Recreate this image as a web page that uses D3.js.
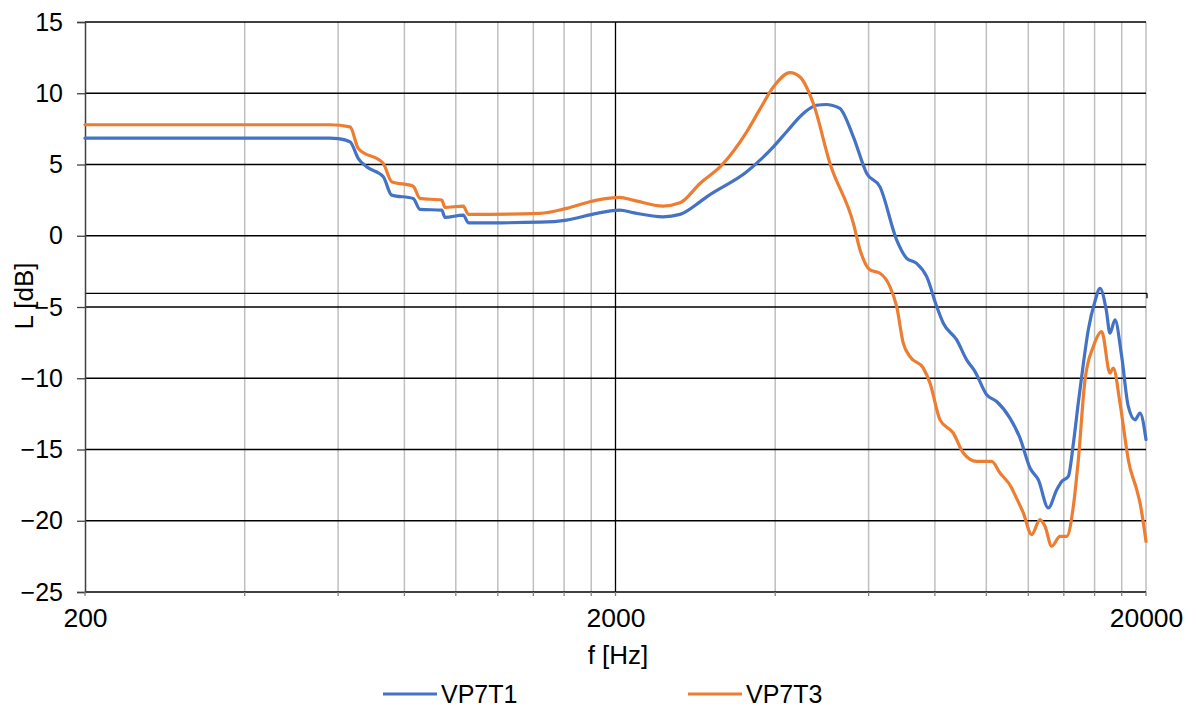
<!DOCTYPE html>
<html>
<head>
<meta charset="utf-8">
<script src="https://cdn.jsdelivr.net/npm/d3@7"></script>
<style>
  html, body { margin: 0; padding: 0; background: #fff; }
  svg { display: block; font-family: "Liberation Sans", Arial, sans-serif; }
</style>
</head>
<body>
<svg id="chart" width="1198" height="708"></svg>
<script>
// ---- data ----
const seriesNames = ["VP7T1", "VP7T3"];
const seriesColors = ["#4472C4", "#ED7D31"];

const freqT1 = [200, 579, 600, 632, 655, 679, 730, 757, 831, 856, 941, 954, 1033, 1056, 1212, 1441, 1618, 1844, 2039, 2158, 2458, 2646, 2886, 2971, 3535, 3968, 4204, 4519, 4781, 5002, 5111, 5300, 5616, 5951, 6303, 6778, 7078, 7392, 7721, 8064, 8298, 8795, 9184, 9522, 10016, 10460, 11082, 11576, 12089, 12533, 13088, 13576, 13872, 14275, 14590, 14910, 15236, 15570, 16028, 16382, 16830, 17106, 17481, 17998, 18521, 19071, 19487, 20000];
const valT1 = [6.85, 6.85, 6.82, 6.59, 5.42, 4.84, 4.14, 2.85, 2.62, 1.85, 1.80, 1.29, 1.45, 0.91, 0.91, 0.95, 1.10, 1.57, 1.80, 1.62, 1.33, 1.50, 2.38, 2.73, 4.49, 6.24, 7.3, 8.58, 9.16, 9.21, 9.16, 8.93, 6.94, 4.37, 3.43, -0.30, -1.58, -1.94, -2.87, -4.97, -6.14, -7.31, -8.71, -9.53, -11.16, -11.63, -12.80, -14.20, -16.30, -17.12, -19.10, -17.82, -17.24, -16.89, -14.6, -11.7, -9.0, -6.6, -4.6, -3.69, -5.2, -6.84, -5.91, -8.48, -11.98, -12.92, -12.45, -14.3];

const freqT3 = [200, 579, 632, 655, 730, 757, 831, 856, 941, 954, 1033, 1056, 1441, 1618, 1844, 2039, 2158, 2458, 2646, 2886, 3172, 3535, 3746, 3968, 4266, 4455, 4720, 5074, 5616, 5782, 6036, 6303, 6582, 6778, 6974, 7180, 7608, 7832, 8180, 8667, 9050, 9591, 10235, 10612, 11164, 11242, 11743, 12178, 12625, 12902, 13282, 13771, 14176, 14590, 14910, 15349, 15910, 16502, 17106, 17353, 17865, 18393, 18521, 19211, 19487, 20000];
const valT3 = [7.79, 7.79, 7.64, 6.12, 5.07, 3.79, 3.48, 2.62, 2.50, 1.99, 2.08, 1.50, 1.57, 1.92, 2.50, 2.69, 2.50, 2.08, 2.31, 3.67, 4.95, 7.29, 8.9, 10.44, 11.45, 11.14, 9.28, 5.07, 0.87, -1.0, -2.40, -2.63, -3.57, -4.97, -7.54, -8.48, -9.29, -10.34, -12.92, -13.85, -15.25, -15.84, -15.84, -16.65, -17.70, -17.94, -19.45, -20.97, -19.92, -20.39, -21.79, -21.09, -21.09, -18.99, -15.72, -10.11, -7.78, -6.73, -9.64, -9.29, -11.74, -15.02, -15.72, -17.82, -18.75, -21.45];

const refLevel = -4.04;
const xTickValues = [200, 2000, 20000];
const xMinorGrid = [400, 600, 800, 1000, 1200, 1400, 1600, 1800, 4000, 6000, 8000, 10000, 12000, 14000, 16000, 18000, 20000];
const yTickValues = [-25, -20, -15, -10, -5, 0, 5, 10, 15];
const xTitle = "f [Hz]";
const yTitle = "L [dB]";

// ---- layout ----
const svg = d3.select("#chart");
const mLeft = 85, mRight = 1146, mTop = 22, mBottom = 592;

const x = d3.scaleLog().domain([200, 20000]).range([mLeft, mRight]);
const y = d3.scaleLinear().domain([-25, 15]).range([mBottom, mTop]);

// minor vertical gridlines
svg.append("g").selectAll("line").data(xMinorGrid).join("line")
  .attr("x1", d => x(d)).attr("x2", d => x(d))
  .attr("y1", mTop).attr("y2", mBottom)
  .attr("stroke", "#bfbfbf").attr("stroke-width", 1.5);

// major vertical gridline at 2000
svg.append("line")
  .attr("x1", x(2000)).attr("x2", x(2000)).attr("y1", mTop).attr("y2", mBottom)
  .attr("stroke", "#000").attr("stroke-width", 1.3);

// horizontal gridlines
svg.append("g").selectAll("line").data(yTickValues).join("line")
  .attr("x1", mLeft).attr("x2", mRight)
  .attr("y1", d => y(d)).attr("y2", d => y(d))
  .attr("stroke", "#000").attr("stroke-width", 1.3);

// reference line
svg.append("line")
  .attr("x1", mLeft).attr("x2", mRight + 1)
  .attr("y1", y(refLevel)).attr("y2", y(refLevel))
  .attr("stroke", "#000").attr("stroke-width", 1.3);
svg.append("line")
  .attr("x1", mRight + 1).attr("x2", mRight + 1)
  .attr("y1", y(refLevel)).attr("y2", y(refLevel) + 5)
  .attr("stroke", "#000").attr("stroke-width", 1.3);

// y axis
const yAxis = d3.axisLeft(y).tickValues(yTickValues).tickSize(8).tickPadding(14).tickFormat(d3.format("d"));
const gy = svg.append("g").attr("transform", `translate(${mLeft},0)`).call(yAxis);
gy.select(".domain").attr("stroke", "#404040").attr("stroke-width", 1.5);
gy.selectAll(".tick line").attr("stroke", "#404040").attr("stroke-width", 1.3);
gy.selectAll(".tick text").attr("font-size", 25).attr("fill", "#000")
  .attr("font-family", "'Liberation Sans', Arial, sans-serif");

// x axis ticks (minor marks)
const allXTicks = [200].concat(xMinorGrid.slice(0, 8), [2000], xMinorGrid.slice(8));
svg.append("g").selectAll("line").data(allXTicks).join("line")
  .attr("x1", d => x(d)).attr("x2", d => x(d))
  .attr("y1", mBottom).attr("y2", mBottom + 4)
  .attr("stroke", "#808080").attr("stroke-width", 1.3);
const xAxis = d3.axisBottom(x).tickValues(xTickValues).tickSize(0).tickPadding(16).tickFormat(d3.format("d"));
const gx = svg.append("g").attr("transform", `translate(0,${mBottom})`).call(xAxis);
gx.select(".domain").remove();
gx.selectAll(".tick text").attr("font-size", 26.5).attr("fill", "#000")
  .attr("font-family", "'Liberation Sans', Arial, sans-serif");

// series lines
const line = d3.line().x(d => x(d[0])).y(d => y(d[1])).curve(d3.curveMonotoneX);
const series = [
  d3.zip(freqT1, valT1),
  d3.zip(freqT3, valT3)
];
svg.append("g").selectAll("path").data(series).join("path")
  .attr("d", line)
  .attr("fill", "none")
  .attr("stroke", (d, i) => seriesColors[i])
  .attr("stroke-width", 3.2)
  .attr("stroke-linejoin", "round")
  .attr("stroke-linecap", "round");

// axis titles
svg.append("text").attr("x", 618).attr("y", 664).attr("text-anchor", "middle")
  .attr("font-size", 26).attr("fill", "#000").text(xTitle);
svg.append("text").attr("transform", "translate(33,296) rotate(-90)").attr("text-anchor", "middle")
  .attr("font-size", 26).attr("fill", "#000").text(yTitle);

// legend
const legendX = [383, 688];
const lg = svg.append("g").selectAll("g").data(seriesNames).join("g")
  .attr("transform", (d, i) => `translate(${legendX[i]},694)`);
lg.append("line").attr("x1", 0).attr("x2", 54).attr("y1", 0).attr("y2", 0)
  .attr("stroke", (d, i) => seriesColors[i]).attr("stroke-width", 3.2);
lg.append("text").attr("x", 58).attr("y", 8.5).attr("font-size", 25).attr("fill", "#000").text(d => d);
</script>
</body>
</html>
